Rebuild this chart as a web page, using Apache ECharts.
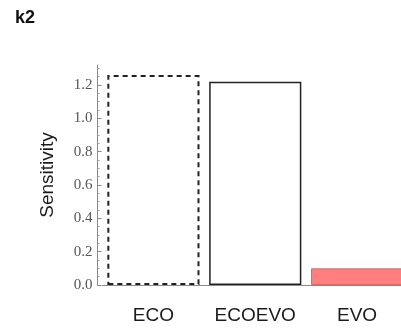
<!DOCTYPE html>
<html>
<head>
<meta charset="utf-8">
<script src="https://cdn.jsdelivr.net/npm/echarts@6/dist/echarts.min.js"></script>
<style>
  html, body { margin: 0; padding: 0; background: #fff; overflow: hidden; }
  /* the canvas is slightly wider than the window so the last bar runs off the edge */
  #chart { width: 408px; height: 328px; }
</style>
</head>
<body>
<div id="chart"></div>
<script>
// Sensitivity of k2 under the three model variants
const categories = ['ECO', 'ECOEVO', 'EVO'];
const sensitivity = [1.26, 1.22, 0.10];
const yTicks = [0, 0.2, 0.4, 0.6, 0.8, 1.0, 1.2];

// Per-bar outline / fill treatment
const barStyles = [
  { color: '#ffffff', borderColor: '#222222', borderWidth: 2, borderType: [5, 4] },
  { color: '#ffffff', borderColor: '#222222', borderWidth: 1.5, borderType: 'solid' },
  { color: '#ff7f7f', borderColor: '#d86a6a', borderWidth: 1, borderType: 'solid' }
];

const chart = echarts.init(document.getElementById('chart'), null, { renderer: 'canvas' });

chart.setOption({
  animation: false,
  backgroundColor: '#ffffff',
  title: {
    text: 'k2',
    left: 10,
    top: 4,
    textStyle: { fontFamily: 'Liberation Sans, Arial, sans-serif', fontSize: 18, fontWeight: 'bold', color: '#111' }
  },
  grid: { left: 102.5, right: 0, top: 65, bottom: 43, containLabel: false },
  xAxis: {
    type: 'category',
    data: categories,
    axisLine: { show: true, lineStyle: { color: '#8a8a8a', width: 1 } },
    axisTick: { show: false },
    axisLabel: {
      interval: 0,
      margin: 21,
      fontFamily: 'Liberation Sans, Arial, sans-serif',
      fontSize: 19,
      color: '#1a1a1a'
    },
    splitLine: { show: false }
  },
  yAxis: {
    type: 'value',
    min: 0,
    max: 1.32,
    interval: 0.2,
    offset: 5,
    name: 'Sensitivity',
    nameLocation: 'middle',
    nameRotate: 90,
    nameGap: 40,
    nameTextStyle: { fontFamily: 'Liberation Sans, Arial, sans-serif', fontSize: 19, color: '#1a1a1a' },
    axisLine: { show: true, lineStyle: { color: '#8a8a8a', width: 1 } },
    axisTick: { show: true, inside: true, length: 4, lineStyle: { color: '#8a8a8a' }, customValues: yTicks },
    minorTick: { show: true, splitNumber: 4, length: 2, lineStyle: { color: '#a0a0a0' } },
    axisLabel: {
      customValues: yTicks,
      margin: 5,
      fontFamily: 'Liberation Serif, Times New Roman, serif',
      fontSize: 15,
      color: '#555555',
      formatter: v => v.toFixed(1)
    },
    splitLine: { show: false }
  },
  series: [{
    type: 'bar',
    barCategoryGap: '9.5%',
    data: sensitivity.map((v, i) => ({ value: v, itemStyle: barStyles[i] }))
  }]
});
</script>
</body>
</html>
